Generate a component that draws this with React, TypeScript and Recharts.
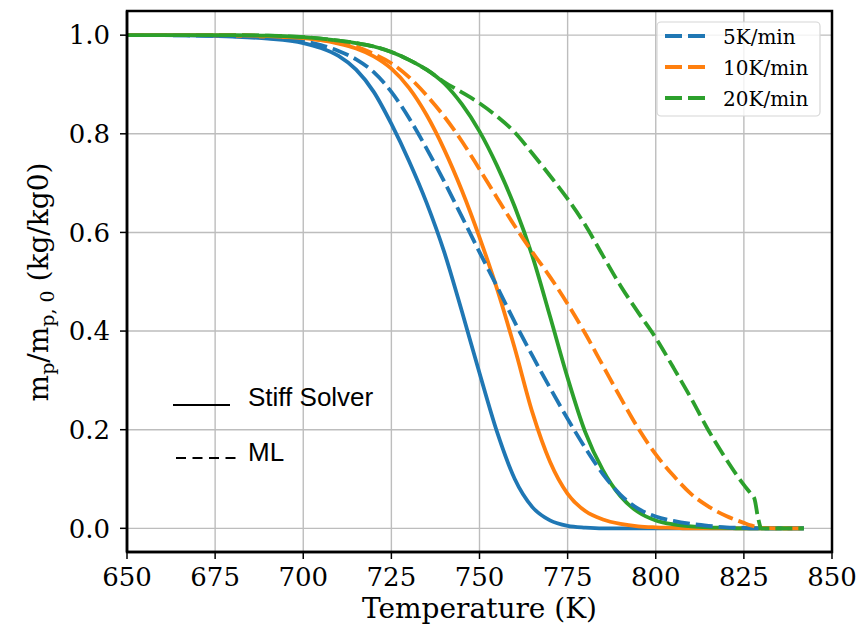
import React from 'react';
import { LineChart, Line, XAxis, YAxis, CartesianGrid } from 'recharts';

const temps = [650, 660, 670, 680, 690, 700, 705, 710, 715, 720, 725, 730, 735, 740, 745, 750, 755, 760, 765, 770, 775, 780, 785, 790, 795, 800, 805, 810, 815, 820, 825, 827, 828, 829, 830, 835, 842];

const stiff5 = [1, 1, 0.999, 0.997, 0.993, 0.984, 0.974, 0.958, 0.93, 0.885, 0.82, 0.745, 0.66, 0.56, 0.44, 0.315, 0.195, 0.1, 0.043, 0.016, 0.005, 0.0015, 0, 0, 0, 0, 0, 0, 0, 0, 0, 0, 0, 0, 0, 0, 0];
const ml5 = [1, 1, 0.999, 0.998, 0.995, 0.988, 0.98, 0.968, 0.951, 0.925, 0.885, 0.832, 0.77, 0.703, 0.632, 0.56, 0.49, 0.418, 0.35, 0.285, 0.222, 0.163, 0.11, 0.068, 0.04, 0.024, 0.015, 0.009, 0.005, 0.002, 0.001, 0, 0, 0, 0, 0, 0];
const stiff10 = [1, 1, 1, 0.999, 0.997, 0.994, 0.99, 0.983, 0.973, 0.957, 0.932, 0.893, 0.838, 0.768, 0.685, 0.59, 0.485, 0.365, 0.235, 0.135, 0.07, 0.035, 0.018, 0.009, 0.004, 0.002, 0.001, 0, 0, 0, 0, 0, 0, 0, 0, 0, 0];
const ml10 = [1, 1, 1, 1, 0.998, 0.994, 0.99, 0.985, 0.977, 0.962, 0.943, 0.915, 0.878, 0.835, 0.785, 0.728, 0.67, 0.613, 0.56, 0.51, 0.455, 0.395, 0.33, 0.265, 0.203, 0.15, 0.107, 0.07, 0.044, 0.025, 0.011, 0.006, 0.004, 0.002, 0.001, 0, 0];
const stiff20 = [1, 1, 1, 1, 0.999, 0.996, 0.993, 0.989, 0.984, 0.977, 0.966, 0.95, 0.93, 0.902, 0.86, 0.805, 0.735, 0.652, 0.552, 0.43, 0.305, 0.195, 0.118, 0.065, 0.033, 0.016, 0.008, 0.004, 0.002, 0.001, 0, 0, 0, 0, 0, 0, 0];
const ml20 = [1, 1, 1, 1, 0.999, 0.996, 0.993, 0.989, 0.984, 0.977, 0.966, 0.95, 0.93, 0.905, 0.884, 0.862, 0.835, 0.803, 0.76, 0.715, 0.668, 0.615, 0.553, 0.492, 0.438, 0.386, 0.326, 0.264, 0.198, 0.14, 0.088, 0.07, 0.06, 0.022, 0, 0, 0];

const xTicks = [650, 675, 700, 725, 750, 775, 800, 825, 850];
const yTicks = [0, 0.2, 0.4, 0.6, 0.8, 1.0];
const legendLabels = ['5K/min', '10K/min', '20K/min'];
const colors = ['#1f77b4', '#ff7f0e', '#2ca02c'];

const data = temps.map((t, i) => ({
  T: t,
  s5: stiff5[i],
  m5: ml5[i],
  s10: stiff10[i],
  m10: ml10[i],
  s20: stiff20[i],
  m20: ml20[i],
}));

const serif = 'DejaVu Serif';
const DASH = '17 6';
const LW = 3.8;

export default function App() {
  return (
    <div style={{ position: 'absolute', left: 0, top: 0, width: 859, height: 624, background: '#fff' }}>
      <LineChart width={859} height={624} data={data} margin={{ top: 11, right: 27, bottom: 0, left: 0 }}>
        <CartesianGrid stroke="#bdbdbd" strokeWidth={1.4} />
        <XAxis
          dataKey="T"
          type="number"
          domain={[650, 850]}
          ticks={xTicks}
          allowDataOverflow
          height={72}
          tickSize={7}
          tickMargin={9}
          axisLine={{ stroke: '#000', strokeWidth: 2.5 }}
          tickLine={{ stroke: '#000', strokeWidth: 1.5 }}
          tick={{ fill: '#000', fontSize: 26, fontFamily: serif }}
        />
        <YAxis
          type="number"
          domain={[-0.048, 1.049]}
          ticks={yTicks}
          allowDataOverflow
          width={127}
          tickSize={7}
          tickMargin={10}
          tickFormatter={(v: number) => v.toFixed(1)}
          axisLine={{ stroke: '#000', strokeWidth: 2.5 }}
          tickLine={{ stroke: '#000', strokeWidth: 1.5 }}
          tick={{ fill: '#000', fontSize: 26, fontFamily: serif }}
        />
        <Line type="monotone" dataKey="s5" stroke={colors[0]} strokeWidth={LW} dot={false} isAnimationActive={false} />
        <Line type="monotone" dataKey="s10" stroke={colors[1]} strokeWidth={LW} dot={false} isAnimationActive={false} />
        <Line type="monotone" dataKey="s20" stroke={colors[2]} strokeWidth={LW} dot={false} isAnimationActive={false} />
        <Line type="monotone" dataKey="m5" stroke={colors[0]} strokeWidth={LW} strokeDasharray={DASH} dot={false} isAnimationActive={false} />
        <Line type="monotone" dataKey="m10" stroke={colors[1]} strokeWidth={LW} strokeDasharray={DASH} dot={false} isAnimationActive={false} />
        <Line type="monotone" dataKey="m20" stroke={colors[2]} strokeWidth={LW} strokeDasharray={DASH} dot={false} isAnimationActive={false} />
      </LineChart>
      <svg width={859} height={624} style={{ position: 'absolute', left: 0, top: 0, pointerEvents: 'none' }}>
        <rect x={127} y={11} width={705} height={541} fill="none" stroke="#000" strokeWidth={2.5} />
        <rect x={657} y={22} width={163} height={94} rx={4} fill="#fff" fillOpacity={0.8} stroke="#d6d6d6" strokeWidth={1.2} />
        {legendLabels.map((lab, i) => {
          const y = 36 + i * 31;
          return (
            <g key={lab}>
              <line x1={665} x2={707} y1={y} y2={y} stroke={colors[i]} strokeWidth={LW} strokeDasharray={DASH} />
              <text x={723} y={y + 7.5} fontFamily={serif} fontSize={20} fill="#000">{lab}</text>
            </g>
          );
        })}
        <line x1={173} x2={230} y1={405} y2={405} stroke="#000" strokeWidth={2} />
        <text x={248} y={406} fontFamily="Liberation Sans, Arial" fontSize={26} fill="#000">Stiff Solver</text>
        <line x1={176} x2={238} y1={458} y2={458} stroke="#000" strokeWidth={2} strokeDasharray="10 6.5" />
        <text x={248} y={461} fontFamily="Liberation Sans, Arial" fontSize={26} fill="#000">ML</text>
        <text x={479.5} y={618} textAnchor="middle" fontFamily={serif} fontSize={28} fill="#000">Temperature (K)</text>
        <text x={48} y={282} textAnchor="middle" fontFamily={serif} fontSize={28} fill="#000" transform="rotate(-90 48 282)">
          m<tspan dy={6} fontSize={19}>p</tspan><tspan dy={-6} fontSize={28}>/m</tspan><tspan dy={6} fontSize={19}>p, 0</tspan><tspan dy={-6} fontSize={28}> (kg/kg0)</tspan>
        </text>
      </svg>
    </div>
  );
}
